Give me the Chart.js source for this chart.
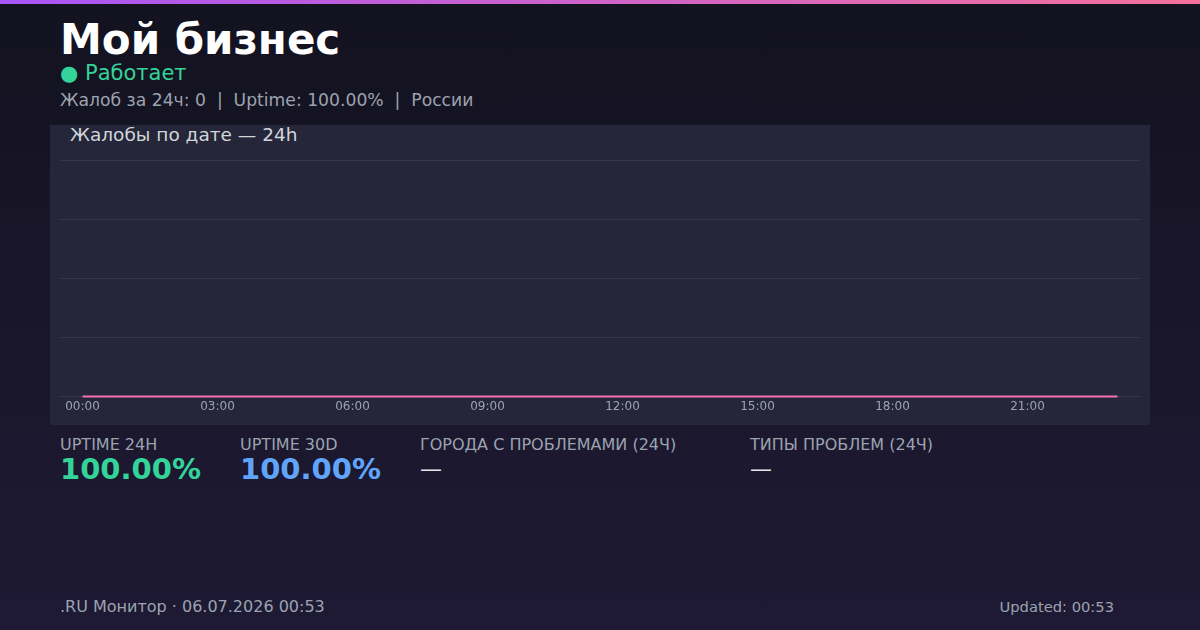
<!DOCTYPE html>
<html lang="ru">
<head>
<meta charset="utf-8">
<script src="https://cdn.jsdelivr.net/npm/chart.js@4.4.1/dist/chart.umd.min.js"></script>
<style>
  html, body { margin: 0; padding: 0; }
  body {
    width: 1200px; height: 630px; overflow: hidden; position: relative;
    font-family: "DejaVu Sans", sans-serif;
    background: linear-gradient(180deg, #13121f 0%, #1e1a35 100%);
  }
  .topbar { position: absolute; left: 0; top: 0; width: 1200px; height: 4px;
    background: linear-gradient(90deg, #a855f7, #f4719a); }
  .title { position: absolute; left: 60px; top: 15px; font-size: 42px; font-weight: bold; color: #fff; line-height: 50px; }
  .status { position: absolute; left: 60px; top: 61px; font-size: 21px; color: #34d399; line-height: 24px; }
  .sub { position: absolute; left: 60px; top: 89px; font-size: 17.2px; color: #9ca3af; line-height: 22px; white-space: pre; }
  .card { position: absolute; left: 50px; top: 125px; width: 1100px; height: 300px; background: #252639; }
  .card h3 { position: absolute; left: 20px; top: -1px; margin: 0; font-size: 18.5px; font-weight: normal; color: #d1d5db; line-height: 22px; }
  .stat { position: absolute; top: 435px; }
  .stat .lbl { font-size: 16px; color: #9ca3af; line-height: 20px; }
  .stat .val { font-size: 29px; font-weight: bold; line-height: 28px; }
  .footer { position: absolute; top: 597px; font-size: 16px; color: #9ca3af; line-height: 20px; }
</style>
</head>
<body>
<div class="topbar"></div>
<div class="title">Мой бизнес</div>
<div class="status">● Работает</div>
<div class="sub">Жалоб за 24ч: 0  |  Uptime: 100.00%  |  России</div>

<div class="card">
  <h3>Жалобы по дате — 24h</h3>
  <div style="position:absolute;left:0;top:25px;width:1100px;height:277px;">
    <canvas id="chart"></canvas>
  </div>
</div>

<div class="stat" style="left:60px"><div class="lbl">UPTIME 24H</div><div class="val" style="color:#34d399">100.00%</div></div>
<div class="stat" style="left:240px"><div class="lbl">UPTIME 30D</div><div class="val" style="color:#60a5fa">100.00%</div></div>
<div class="stat" style="left:420px"><div class="lbl">ГОРОДА С ПРОБЛЕМАМИ (24Ч)</div><div class="val" style="color:#e5e7eb;font-weight:normal;font-size:22px">—</div></div>
<div class="stat" style="left:750px"><div class="lbl">ТИПЫ ПРОБЛЕМ (24Ч)</div><div class="val" style="color:#e5e7eb;font-weight:normal;font-size:22px">—</div></div>

<div class="footer" style="left:60px">.RU Монитор · 06.07.2026 00:53</div>
<div class="footer" style="right:86px;font-size:14.7px">Updated: 00:53</div>

<script>
// Hours of the last 24h and complaint counts per hour
const hours = ["00:00","01:00","02:00","03:00","04:00","05:00","06:00","07:00",
               "08:00","09:00","10:00","11:00","12:00","13:00","14:00","15:00",
               "16:00","17:00","18:00","19:00","20:00","21:00","22:00","23:00"];
const complaints = [0,0,0,0,0,0,0,0,0,0,0,0,0,0,0,0,0,0,0,0,0,0,0,0];
const yMax = 4;

const ctx = document.getElementById("chart");
new Chart(ctx, {
    type: "line",
    data: {
        labels: hours,
        datasets: [{
            data: complaints,
            borderColor: "#f472b6",
            borderWidth: 2,
            pointRadius: 0,
            fill: false,
            tension: 0,
            clip: false
        }]
    },
    options: {
        responsive: true,
        maintainAspectRatio: false,
        animation: false,
        layout: { padding: { left: 10, right: 10, top: 10, bottom: 10 } },
        plugins: { legend: { display: false }, tooltip: { enabled: false } },
        scales: {
            x: {
                offset: true,
                grid: { display: false, drawTicks: false },
                border: { display: false },
                ticks: {
                    color: "#9ca3af",
                    font: { family: "DejaVu Sans", size: 12 },
                    maxRotation: 0,
                    autoSkip: false,
                    padding: 3,
                    callback: function (val, i) { return i % 3 === 0 ? hours[i] : ""; }
                }
            },
            y: {
                min: 0,
                max: yMax,
                ticks: { display: false, stepSize: 1 },
                border: { display: false },
                grid: { color: "rgba(255,255,255,0.08)", drawTicks: false }
            }
        }
    }
});
</script>
</body>
</html>
